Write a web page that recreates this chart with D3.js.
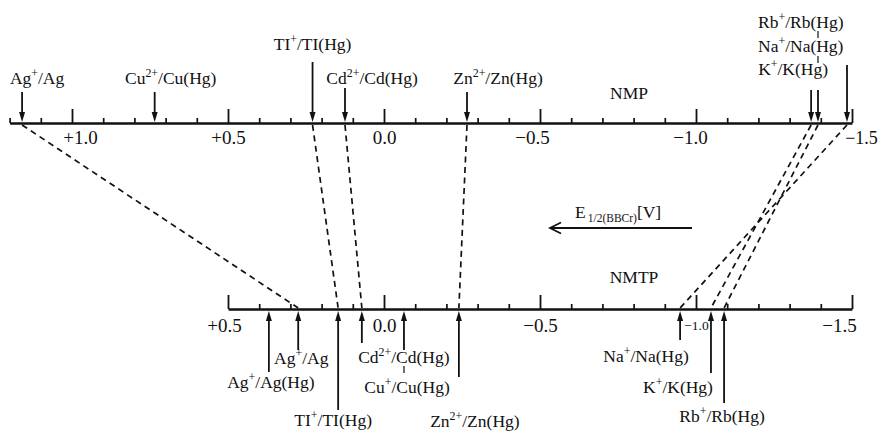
<!DOCTYPE html>
<html><head><meta charset="utf-8">
<script src="https://cdn.jsdelivr.net/npm/d3@7"></script>
<style>
body{margin:0;background:#fff;}
svg text{font-family:"Liberation Serif","DejaVu Serif",serif;fill:#111;}
</style></head><body>
<svg id="c" width="880" height="435"></svg>
<script>
// ---------------- data ----------------
const nmpTickValues = [1.0, 0.5, 0.0, -0.5, -1.0, -1.5];
const nmpTickLabels = ["+1.0", "+0.5", "0.0", "−0.5", "−1.0", "−1.5"];
const nmtpTickValues = [0.5, 0.0, -0.5, -1.0, -1.5];
const nmtpTickLabels = ["+0.5", "0.0", "−0.5", "−1.0", "−1.5"];

const nmpCouples = ["Ag^+^/Ag", "Cu^2+^/Cu(Hg)", "TI^+^/TI(Hg)", "Cd^2+^/Cd(Hg)", "Zn^2+^/Zn(Hg)", "K^+^/K(Hg)", "Rb^+^/Rb(Hg)", "Na^+^/Na(Hg)"];
const nmpE = [1.16, 0.735, 0.229, 0.125, -0.266, -1.369, -1.391, -1.484];

const nmtpCouples = ["Ag^+^/Ag(Hg)", "Ag^+^/Ag", "TI^+^/TI(Hg)", "Cd^2+^/Cd(Hg)", "Cu^+^/Cu(Hg)", "Zn^2+^/Zn(Hg)", "Na^+^/Na(Hg)", "K^+^/K(Hg)", "Rb^+^/Rb(Hg)"];
const nmtpE = [0.369, 0.275, 0.147, 0.071, -0.064, -0.240, -0.949, -1.048, -1.090];

const linkedCouples = ["Ag^+^/Ag", "TI^+^/TI(Hg)", "Cd^2+^/Cd(Hg)", "Zn^2+^/Zn(Hg)", "Na^+^/Na(Hg)", "K^+^/K(Hg)", "Rb^+^/Rb(Hg)"];

const nmpDomain = [1.2, -1.5];
const nmtpDomain = [0.5, -1.5];

// ---------------- layout ----------------
const W = 880, H = 435;
const topY = 123, botY = 309;
const FS = 17.5;
const TFS = 19;

const xTop = d3.scaleLinear().domain(nmpDomain).range([9.6, 852]);
const xBot = d3.scaleLinear().domain(nmtpDomain).range([xTop(nmtpDomain[0]), xTop(nmtpDomain[1])]);

const topLayout = {
  "Ag^+^/Ag": {y0: 92, lx: 15, ly: 84},
  "Cu^2+^/Cu(Hg)": {y0: 92, lx: 16, ly: 84},
  "TI^+^/TI(Hg)": {y0: 62, lx: 0, ly: 50},
  "Cd^2+^/Cd(Hg)": {y0: 88, lx: 27, ly: 84},
  "Zn^2+^/Zn(Hg)": {y0: 92, lx: 31, ly: 84},
  "K^+^/K(Hg)": {y0: 90, lx: -53, ly: 75, anchor: "start"},
  "Rb^+^/Rb(Hg)": {y0: 90, lx: -60, ly: 28, anchor: "start", leaders: [[31, 38], [56, 63]]},
  "Na^+^/Na(Hg)": {y0: 65, lx: -89, ly: 52, anchor: "start"}
};
const botLayout = {
  "Ag^+^/Ag(Hg)": {y0: 372, lx: 2, ly: 388},
  "Ag^+^/Ag": {y0: 350, lx: 3, ly: 364},
  "TI^+^/TI(Hg)": {y0: 410, lx: -5, ly: 426},
  "Cd^2+^/Cd(Hg)": {y0: 343, lx: 42, ly: 363},
  "Cu^+^/Cu(Hg)": {y0: 350, lx: 3, ly: 393, leaders: [[366, 373]]},
  "Zn^2+^/Zn(Hg)": {y0: 377, lx: 16, ly: 427},
  "Na^+^/Na(Hg)": {y0: 340, lx: -34, ly: 362},
  "K^+^/K(Hg)": {y0: 373, lx: -33, ly: 393},
  "Rb^+^/Rb(Hg)": {y0: 403, lx: -2, ly: 422}
};

const svg = d3.select("#c");
svg.append("rect").attr("width", W).attr("height", H).attr("fill", "#fff");

function richText(sel, str, fs) {
  const parts = str.split("^");
  parts.forEach((p, i) => {
    if (!p) return;
    const t = sel.append("tspan").text(p);
    if (i % 2 === 1) t.attr("font-size", fs * 0.68).attr("dy", -fs * 0.42);
    else if (i > 0) t.attr("dy", fs * 0.42);
  });
}

// ---------------- dashed links ----------------
const topMap = new Map(nmpCouples.map((c, i) => [c, nmpE[i]]));
const botMap = new Map(nmtpCouples.map((c, i) => [c, nmtpE[i]]));
svg.append("g").selectAll("line").data(linkedCouples).join("line")
  .attr("x1", d => xTop(topMap.get(d))).attr("y1", topY + 2)
  .attr("x2", d => xBot(botMap.get(d))).attr("y2", botY - 1)
  .attr("stroke", "#111").attr("stroke-width", 1.7).attr("stroke-dasharray", "6,4.5");

// ---------------- axes ----------------
function drawAxis(scale, y, domain, tickValues, tickLabels, pad, labelAdjust) {
  const lo = Math.round(domain[1] * 10), hi = Math.round(domain[0] * 10);
  const minor = d3.range(hi, lo - 1, -1).map(d => d / 10).filter(v => !tickValues.some(t => Math.abs(t - v) < 1e-6));
  const gMinor = svg.append("g").attr("transform", `translate(0,${y})`)
    .call(d3.axisBottom(scale).tickValues(minor).tickSizeInner(-5).tickSizeOuter(0).tickFormat(""));
  gMinor.select(".domain").remove();
  gMinor.selectAll(".tick line").attr("stroke", "#111").attr("stroke-width", 1.7);
  const g = svg.append("g").attr("transform", `translate(0,${y})`)
    .call(d3.axisBottom(scale).tickValues(tickValues).tickSizeInner(-14).tickSizeOuter(0).tickPadding(pad)
      .tickFormat((d, i) => tickLabels[i]));
  g.attr("font-family", null).attr("font-size", null);
  g.select(".domain").attr("stroke", "#111").attr("stroke-width", 2.3);
  g.selectAll(".tick line").attr("stroke", "#111").attr("stroke-width", 1.8);
  g.selectAll(".tick text").attr("font-size", TFS).attr("fill", "#111")
    .each(function (d, i) {
      const adj = labelAdjust[tickLabels[i]];
      if (adj) {
        if (adj.dx) d3.select(this).attr("dx", adj.dx);
        if (adj.fs) d3.select(this).attr("font-size", adj.fs);
        if (adj.dy) d3.select(this).attr("y", pad + adj.dy);
      }
    });
}
drawAxis(xTop, topY, nmpDomain, nmpTickValues, nmpTickLabels, 8,
  {"+1.0": {dx: 8}, "−0.5": {dx: -8}, "−1.0": {dx: -6}, "−1.5": {dx: 9, fs: 18}});
drawAxis(xBot, botY, nmtpDomain, nmtpTickValues, nmtpTickLabels, 10,
  {"+0.5": {dx: -4}, "−1.0": {fs: 13.5, dy: 1}, "−1.5": {dx: -13}});

// ---------------- arrows ----------------
function drawArrows(couples, values, scale, axisY, layout, dir) {
  const g = svg.append("g");
  couples.forEach((c, i) => {
    const L = layout[c];
    const x = scale(values[i]);
    const tip = dir > 0 ? axisY - 1 : axisY + 2;
    g.append("line").attr("x1", x).attr("x2", x).attr("y1", L.y0).attr("y2", tip - dir * 6)
      .attr("stroke", "#111").attr("stroke-width", 1.8);
    g.append("path")
      .attr("d", `M${x},${tip}L${x - 3},${tip - dir * 10}L${x + 3},${tip - dir * 10}Z`)
      .attr("fill", "#111");
    (L.leaders || []).forEach(s => {
      g.append("line").attr("x1", x).attr("x2", x).attr("y1", s[0]).attr("y2", s[1])
        .attr("stroke", "#111").attr("stroke-width", 1.2);
    });
    const t = g.append("text").attr("x", x + L.lx).attr("y", L.ly)
      .attr("text-anchor", L.anchor || "middle").attr("font-size", FS);
    richText(t, c, FS);
  });
}
drawArrows(nmpCouples, nmpE, xTop, topY, topLayout, 1);
drawArrows(nmtpCouples, nmtpE, xBot, botY, botLayout, -1);

// ---------------- axis titles ----------------
svg.append("text").attr("x", 629).attr("y", 99).attr("text-anchor", "middle").attr("font-size", FS).text("NMP");
svg.append("text").attr("x", 634).attr("y", 283).attr("text-anchor", "middle").attr("font-size", FS).text("NMTP");

// ---------------- direction arrow ----------------
const ay = 228;
svg.append("line").attr("x1", 550).attr("x2", 692).attr("y1", ay).attr("y2", ay)
  .attr("stroke", "#111").attr("stroke-width", 2);
svg.append("path").attr("d", `M561,${ay - 5.5}L550,${ay}L561,${ay + 5.5}`)
  .attr("fill", "none").attr("stroke", "#111").attr("stroke-width", 1.8);
const et = svg.append("text").attr("x", 575).attr("y", 218).attr("font-size", FS);
et.append("tspan").text("E");
et.append("tspan").attr("font-size", 11.5).attr("dy", 4).attr("dx", 2).text("1/2(BBCr)");
et.append("tspan").attr("dy", -4).text("[V]");
</script>
</body></html>
